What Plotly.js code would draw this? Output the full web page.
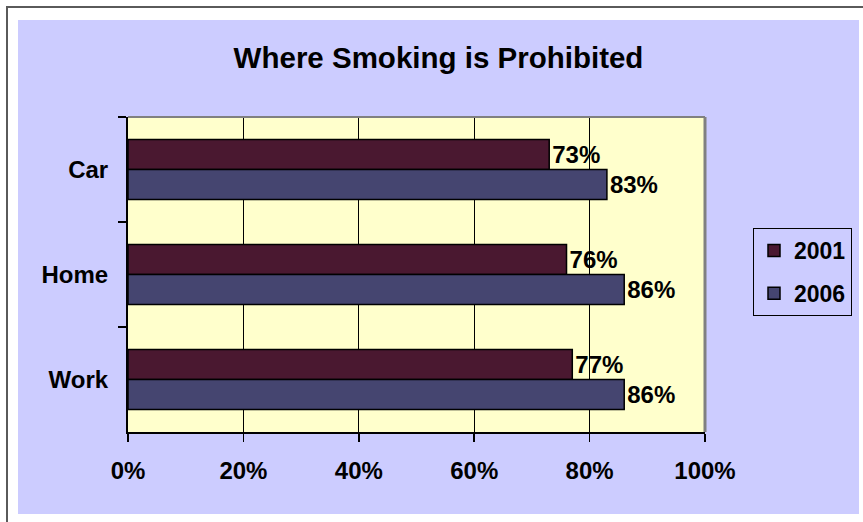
<!DOCTYPE html>
<html>
<head>
<meta charset="utf-8">
<script src="https://cdn.plot.ly/plotly-3.0.1.min.js"></script>
<style>
  html, body { margin: 0; padding: 0; background: #ffffff; width: 863px; height: 522px; overflow: hidden; }
  #frame { position: absolute; left: 6px; top: 6px; width: 857px; height: 516px;
           border-top: 2px solid #5a5a5a; border-left: 2px solid #5a5a5a; box-sizing: border-box; }
  #chart { position: absolute; left: 18px; top: 20px; width: 841px; height: 494px; }
</style>
</head>
<body>
<div id="frame"></div>
<div id="chart"></div>
<script>
const categories = ['Car', 'Home', 'Work'];
const series2001 = [73, 76, 77];
const series2006 = [83, 86, 86];
const seriesNames = ['2001', '2006'];
const xTickVals = [0, 20, 40, 60, 80, 100];
const xTickText = ['0%', '20%', '40%', '60%', '80%', '100%'];

const FONT = 'Arial, "Liberation Sans", sans-serif';

const traces = [
  {
    type: 'bar', orientation: 'h', name: seriesNames[0], legendgroup: 'a',
    y: categories, x: series2001,
    marker: { color: '#4a1830', line: { color: '#000000', width: 1.5 } },
    texttemplate: '%{x}%', textposition: 'outside', cliponaxis: false,
    textfont: { family: FONT, size: 24, color: '#000000', weight: 'bold' },
    hoverinfo: 'none'
  },
  {
    type: 'bar', orientation: 'h', name: seriesNames[1], legendgroup: 'b',
    y: categories, x: series2006,
    marker: { color: '#454570', line: { color: '#000000', width: 1.5 } },
    texttemplate: '%{x}%', textposition: 'outside', cliponaxis: false,
    textfont: { family: FONT, size: 24, color: '#000000', weight: 'bold' },
    hoverinfo: 'none'
  }
];

const layout = {
  width: 841, height: 494,
  margin: { l: 110, r: 154, t: 97, b: 82 },
  paper_bgcolor: '#ccccff',
  plot_bgcolor: '#ffffcc',
  barmode: 'group', bargap: 0.43, bargroupgap: 0,
  title: {
    text: '<b>Where Smoking is Prohibited</b>',
    font: { family: FONT, size: 29.5, color: '#000000' },
    xref: 'container', x: 0.5, xanchor: 'center',
    yref: 'container', y: 1 - 38 / 494, yanchor: 'middle'
  },
  xaxis: {
    range: [0, 100], tickmode: 'array', tickvals: xTickVals, ticktext: xTickText,
    showgrid: true, gridcolor: '#000000', gridwidth: 1,
    zeroline: false, showline: true, linecolor: '#000000', linewidth: 2,
    ticks: 'outside', ticklen: 8, tickcolor: '#000000', tickwidth: 1.5,
    ticklabelstandoff: 8,
    tickfont: { family: FONT, size: 24, color: '#000000', weight: 'bold' },
    fixedrange: true
  },
  yaxis: {
    autorange: 'reversed', type: 'category',
    showgrid: false, zeroline: false,
    showline: true, linecolor: '#000000', linewidth: 2,
    ticks: 'outside', tickson: 'boundaries', ticklen: 8, tickcolor: '#000000', tickwidth: 1.5,
    ticklabelstandoff: 13,
    tickfont: { family: FONT, size: 24, color: '#000000', weight: 'bold' },
    fixedrange: true
  },
  legend: {
    xref: 'container', yref: 'container',
    x: (753 - 18) / 841, xanchor: 'left',
    y: 1 - (228 - 20) / 494, yanchor: 'top',
    bgcolor: '#ccccff', bordercolor: '#000000', borderwidth: 1,
    font: { family: FONT, size: 23, color: '#000000', weight: 'bold' },
    traceorder: 'grouped', tracegroupgap: 10
  },
  shapes: [
    { type: 'line', xref: 'paper', yref: 'paper', x0: 0, x1: 1, y0: 1, y1: 1,
      line: { color: '#808080', width: 2 }, layer: 'above' },
    { type: 'line', xref: 'paper', yref: 'paper', x0: 1, x1: 1, y0: 0, y1: 1,
      line: { color: '#808080', width: 3 }, layer: 'above' }
  ],
  showlegend: true
};

Plotly.newPlot('chart', traces, layout, { displayModeBar: false, staticPlot: true });
</script>
</body>
</html>
